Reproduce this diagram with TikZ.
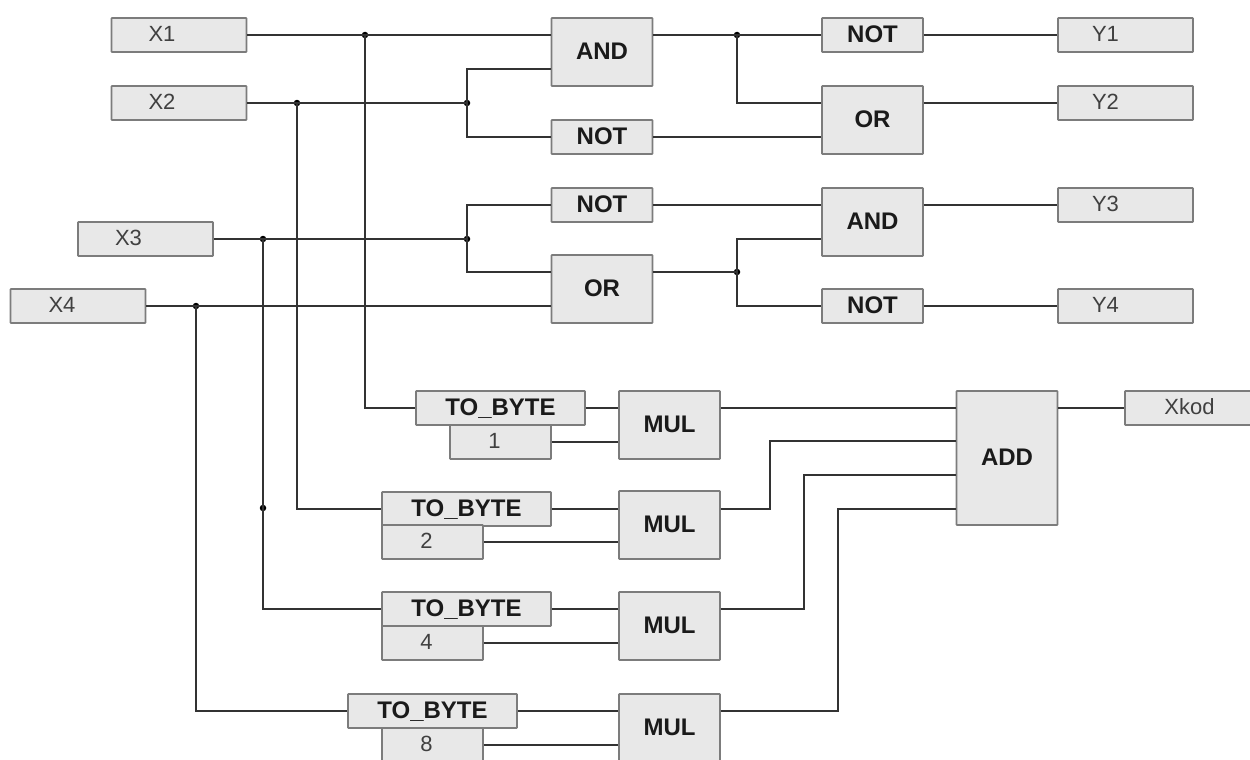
\documentclass[tikz,border=0pt]{standalone}
\usepackage{fontspec}
\setmainfont{Liberation Sans}
\begin{document}
\begin{tikzpicture}[x=1pt,y=-1pt,
  blockbase/.style={draw=boxline,fill=boxfill,line width=1.8pt,inner sep=0pt,rounded corners=0.6pt,text=textcol,text depth=2pt},
  wh/.style 2 args={minimum width=#1 pt,minimum height=#2 pt},
  io/.style={blockbase,wh={135}{34},font=\fontsize{22}{22}\selectfont,text=iotext},
  fn/.style={blockbase,font=\fontsize{24}{24}\selectfont\bfseries},
  small/.style={fn,wh={101}{34}},
  large/.style={fn,wh={101}{68}},
  tobyte/.style={fn,wh={169}{34}},
  konst/.style={blockbase,wh={101}{34},font=\fontsize{22}{22}\selectfont,text=iotext},
  wire/.style={draw=wirecol,line width=1.8pt},
  joint/.style={circle,fill=black,draw=none,minimum size=6.5pt,inner sep=0pt},
  pad/.style={execute at end node={\hspace*{#1pt}}}]
\definecolor{boxfill}{HTML}{E8E8E8}
\definecolor{boxline}{HTML}{7C7C7C}
\definecolor{wirecol}{HTML}{333333}
\definecolor{textcol}{HTML}{1A1A1A}
\definecolor{iotext}{HTML}{404040}
\useasboundingbox (0,0) rectangle (1250,760);
\clip (0,0) rectangle (1250,760);
% inputs
\node[io,pad=34] (x1) at (179,35) {X1};
\node[io,pad=34] (x2) at (179,103) {X2};
\node[io,pad=34] (x3) at (145.5,239) {X3};
\node[io,pad=32] (x4) at (78,306) {X4};
% first logic column
\node[large] (and1) at (602,52) {AND};
\node[small] (not1) at (602,137) {NOT};
\node[small] (not2) at (602,205) {NOT};
\node[large] (or2) at (602,289) {OR};
% second logic column
\node[small] (not3) at (872.5,35) {NOT};
\node[large] (or1) at (872.5,120) {OR};
\node[large] (and2) at (872.5,222) {AND};
\node[small] (not4) at (872.5,306) {NOT};
% outputs
\node[io,pad=40] (y1) at (1125.5,35) {Y1};
\node[io,pad=40] (y2) at (1125.5,103) {Y2};
\node[io,pad=40] (y3) at (1125.5,205) {Y3};
\node[io,pad=40] (y4) at (1125.5,306) {Y4};
% conversion
\node[tobyte] (tb1) at (500.5,408) {TO\_BYTE};
\node[konst,pad=12] (c1) at (500.5,442) {1};
\node[tobyte] (tb2) at (466.5,509) {TO\_BYTE};
\node[konst,pad=12] (c2) at (432.5,542) {2};
\node[tobyte] (tb3) at (466.5,609) {TO\_BYTE};
\node[konst,pad=12] (c3) at (432.5,643) {4};
\node[tobyte] (tb4) at (432.5,711) {TO\_BYTE};
\node[konst,pad=12] (c4) at (432.5,745) {8};
\node[large] (mul1) at (669.5,425) {MUL};
\node[large] (mul2) at (669.5,525) {MUL};
\node[large] (mul3) at (669.5,626) {MUL};
\node[large] (mul4) at (669.5,728) {MUL};
\node[fn,wh={101}{134}] (add) at (1007,458) {ADD};
\node[io,pad=6] (xkod) at (1192.5,408) {Xkod};
% junctions
\node[joint] (j1) at (365,35) {};
\node[joint] (j2) at (297,103) {};
\node[joint] (j3) at (467,103) {};
\node[joint] (j4) at (737,35) {};
\node[joint] (j5) at (263,239) {};
\node[joint] (j6) at (467,239) {};
\node[joint] (j7) at (737,272) {};
\node[joint] (j8) at (196,306) {};
\node[joint] (j9) at (263,508) {};
\coordinate (b2) at (770,441);
\coordinate (b3) at (804,475);
\coordinate (b4) at (838,509);
\coordinate (n1) at (551,69);
% upper network
\draw[wire] (x1.east) -- (and1.west |- x1.east);
\draw[wire] (x2.east) -- (j3.center);
\draw[wire] (j3.center) |- (n1);
\draw[wire] (j3.center) |- (not1.west);
\draw[wire] (x3.east) -- (j6.center);
\draw[wire] (j6.center) |- (not2.west);
\draw[wire] (j6.center) |- (or2.west |- j7.center);
\draw[wire] (x4.east) -- (or2.west |- x4.east);
\draw[wire] (and1.east |- x1.east) -- (not3.west);
\draw[wire] (j4.center) |- (or1.west |- x2.east);
\draw[wire] (not1.east) -- (or1.west |- not1.east);
\draw[wire] (not2.east) -- (and2.west |- not2.east);
\draw[wire] (or2.east |- j7.center) -- (j7.center);
\draw[wire] (j7.center) |- (and2.west |- x3.east);
\draw[wire] (j7.center) |- (not4.west);
\draw[wire] (not3.east) -- (y1.west);
\draw[wire] (or1.east |- y2.west) -- (y2.west);
\draw[wire] (and2.east |- y3.west) -- (y3.west);
\draw[wire] (not4.east) -- (y4.west);
% drops to the converters
\draw[wire] (j1.center) |- (tb1.west);
\draw[wire] (j2.center) |- (tb2.west);
\draw[wire] (j5.center) |- (tb3.west);
\draw[wire] (j8.center) |- (tb4.west);
% converters to MUL
\draw[wire] (tb1.east) -- (mul1.west |- tb1.east);
\draw[wire] (c1.east) -- (mul1.west |- c1.east);
\draw[wire] (tb2.east) -- (mul2.west |- tb2.east);
\draw[wire] (c2.east) -- (mul2.west |- c2.east);
\draw[wire] (tb3.east) -- (mul3.west |- tb3.east);
\draw[wire] (c3.east) -- (mul3.west |- c3.east);
\draw[wire] (tb4.east) -- (mul4.west |- tb4.east);
\draw[wire] (c4.east) -- (mul4.west |- c4.east);
% MUL to ADD
\draw[wire] (mul1.east |- tb1.east) -- (add.west |- tb1.east);
\draw[wire] (mul2.east |- tb2.east) -| (b2) -- (add.west |- b2);
\draw[wire] (mul3.east |- tb3.east) -| (b3) -- (add.west |- b3);
\draw[wire] (mul4.east |- tb4.east) -| (b4) -- (add.west |- b4);
\draw[wire] (add.east |- xkod.west) -- (xkod.west);
\end{tikzpicture}
\end{document}
